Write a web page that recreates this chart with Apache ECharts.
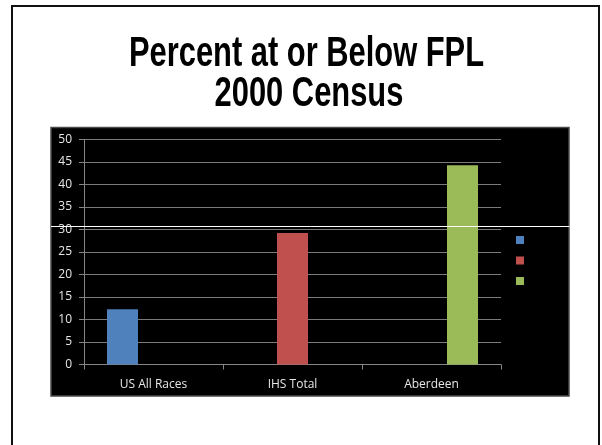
<!DOCTYPE html>
<html>
<head>
<meta charset="utf-8">
<script src="https://cdn.jsdelivr.net/npm/echarts@6/dist/echarts.min.js"></script>
<style>html,body{margin:0;padding:0;background:#fff;}#c{width:602px;height:445px;}</style>
</head>
<body>
<div id="c"></div>
<script>
var titleLines = ['Percent at or Below FPL', '2000 Census'];
var categories = ['US All Races', 'IHS Total', 'Aberdeen'];
var seriesNames = ['US All Races', 'IHS Total', 'Aberdeen'];
var usValues = [12.3, '-', '-'];
var ihsValues = ['-', 29.2, '-'];
var aberdeenValues = ['-', '-', 44.3];
var seriesColors = ['#4F81BD', '#C0504D', '#9BBB59'];

var chart = echarts.init(document.getElementById('c'), null, {renderer: 'canvas'});
var lbl = {color: '#e6e6e6', fontFamily: 'Open Sans', fontSize: 12};
function bar(i, data) {
  return {
    name: seriesNames[i], type: 'bar', data: data, barWidth: 31, barGap: '0%',
    itemStyle: {color: seriesColors[i]}, z: 3
  };
}
var titleFont = 'bold 42px "Liberation Sans", Arial, sans-serif';
chart.setOption({
  backgroundColor: '#ffffff',
  animation: false,
  graphic: [
    {type: 'rect', z: -5, shape: {x: 12, y: 6, width: 587, height: 520}, style: {fill: '#ffffff', stroke: '#111', lineWidth: 2}},
    {type: 'rect', z: -4, shape: {x: 51, y: 127.5, width: 518, height: 268.5}, style: {fill: '#000', stroke: '#4a4a4a', lineWidth: 1.5}},
    {type: 'line', z: 50, shape: {x1: 51, y1: 226.5, x2: 569.5, y2: 226.5}, style: {stroke: '#fff', lineWidth: 1}},
    {type: 'text', z: 50, x: 306.5, y: 54, scaleX: 0.735, style: {text: titleLines[0], x: 0, y: 0, align: 'center', verticalAlign: 'middle', font: titleFont, fill: '#000'}},
    {type: 'text', z: 50, x: 309, y: 94.5, scaleX: 0.735, style: {text: titleLines[1], x: 0, y: 0, align: 'center', verticalAlign: 'middle', font: titleFont, fill: '#000'}}
  ],
  grid: {left: 84, right: 101, top: 139.5, bottom: 80.5, containLabel: false},
  legend: {
    orient: 'vertical', left: 516, top: 236, padding: 0, itemWidth: 8, itemHeight: 8, itemGap: 12.5,
    icon: 'rect', formatter: function () { return ''; },
    textStyle: {fontSize: 8, lineHeight: 8, color: '#fff'},
    data: seriesNames
  },
  xAxis: {
    type: 'category', data: categories,
    axisLine: {lineStyle: {color: '#868686'}},
    axisTick: {show: true, length: 5, lineStyle: {color: '#868686'}},
    axisLabel: Object.assign({margin: 14}, lbl),
    splitLine: {show: false}
  },
  yAxis: {
    type: 'value', min: 0, max: 50, interval: 5,
    axisLine: {show: true, lineStyle: {color: '#868686'}},
    axisTick: {show: true, length: 5, lineStyle: {color: '#868686'}},
    axisLabel: Object.assign({margin: 12}, lbl),
    splitLine: {show: true, lineStyle: {color: '#7a7a7a', width: 1}}
  },
  series: [bar(0, usValues), bar(1, ihsValues), bar(2, aberdeenValues)]
});
</script>
</body>
</html>
